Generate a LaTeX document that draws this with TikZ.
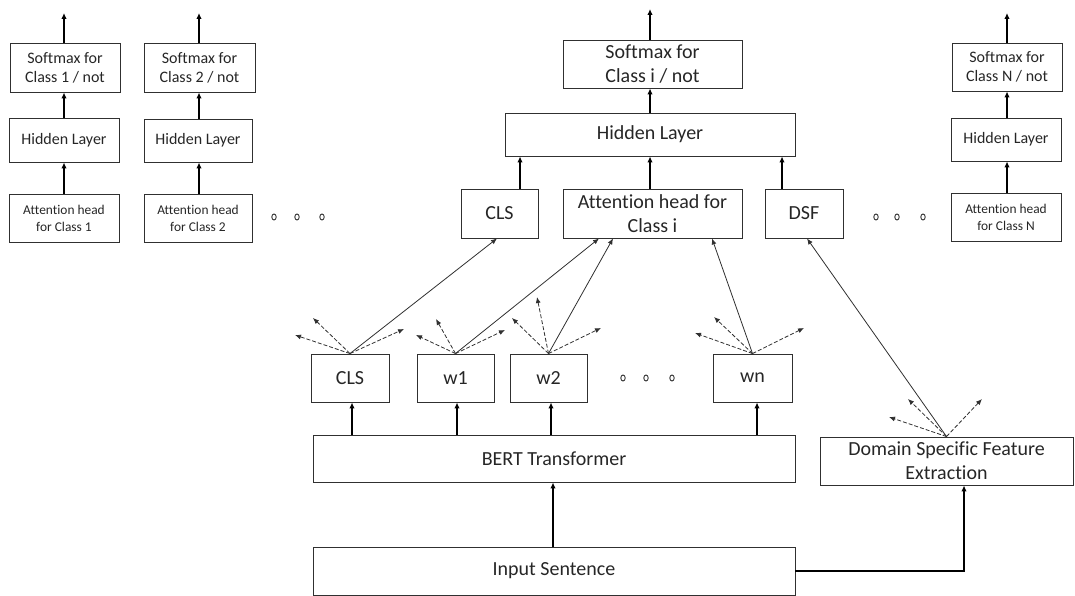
\documentclass[tikz,border=0pt]{standalone}
\usepackage{fontspec}
\setmainfont{Carlito}[Ligatures={NoCommon}]
\usetikzlibrary{arrows.meta,calc}
\definecolor{linec}{HTML}{303030}
\definecolor{textc}{HTML}{262626}
\tikzset{
  box/.style={draw=linec, line width=0.9pt, inner sep=0pt, align=center, text=textc},
  big/.style={font=\fontsize{20}{24}\selectfont},
  mid/.style={font=\fontsize{16}{19}\selectfont},
  small/.style={font=\fontsize{13.4}{17}\selectfont},
  thickarr/.style={draw=black, line width=1.8pt, -{Latex[length=6pt,width=5.5pt]}},
  thinarr/.style={draw=linec, line width=0.8pt, -{Latex[length=6pt,width=5pt]}},
  dasharr/.style={thinarr, dash pattern=on 4pt off 2pt},
  dotc/.style={draw=linec, line width=0.9pt}
}
\begin{document}
\begin{tikzpicture}[x=1pt,y=-1pt]
\useasboundingbox (0,0) rectangle (1075,596);

% left columns
\node[box,mid,minimum width=110pt,minimum height=49pt] (sm1) at (65,67.5) {Softmax for\\Class 1 / not};
\node[box,mid,minimum width=110pt,minimum height=44pt] (hl1) at (64,140) {Hidden Layer};
\node[box,small,minimum width=110pt,minimum height=48pt] (ah1) at (64,218) {Attention head\\for Class 1};

\node[box,mid,minimum width=111pt,minimum height=49pt] (sm2) at (199.5,67.5) {Softmax for\\Class 2 / not};
\node[box,mid,minimum width=108pt,minimum height=43pt] (hl2) at (198,140.5) {Hidden Layer};
\node[box,small,minimum width=108pt,minimum height=48pt] (ah2) at (198,218) {Attention head\\for Class 2};

% right column
\node[box,mid,minimum width=110pt,minimum height=48pt] (smN) at (1007,67) {Softmax for\\Class N / not};
\node[box,mid,minimum width=110pt,minimum height=43pt] (hlN) at (1006,139.5) {Hidden Layer};
\node[box,small,minimum width=110pt,minimum height=48pt] (ahN) at (1006,217) {Attention head\\for Class N};

% middle column
\node[box,big,minimum width=179pt,minimum height=48pt] (smi) at (652.5,64) {Softmax for\\Class i / not};
\node[box,big,minimum width=290pt,minimum height=43pt] (hli) at (650,134.5) {Hidden Layer};
\node[box,big,minimum width=77pt,minimum height=49pt] (clsT) at (499.5,213.5) {CLS};
\node[box,big,minimum width=179pt,minimum height=49pt] (attn) at (652.5,213.5) {Attention head for\\Class i};
\node[box,big,minimum width=78pt,minimum height=49pt] (dsf) at (804,213.5) {DSF};

% tokens
\node[box,big,minimum width=78pt,minimum height=48pt] (clsB) at (350,378) {CLS};
\node[box,big,minimum width=77pt,minimum height=48pt] (w1) at (455.5,378) {w1};
\node[box,big,minimum width=77pt,minimum height=48pt] (w2) at (548.5,378) {w2};
\node[box,big,minimum width=79pt,minimum height=48pt] (wn) at (752.5,378) {wn};

\node[box,big,minimum width=482pt,minimum height=47pt] (bert) at (554,458.5) {BERT Transformer};
\node[box,big,minimum width=482pt,minimum height=48pt] (input) at (554,571) {Input Sentence};
\node[box,big,minimum width=253pt,minimum height=48pt] (dsfe) at (946.5,461) {Domain Specific Feature\\Extraction};

% output coordinates
\coordinate (o1) at (64,13);
\coordinate (o2) at (199,13);
\coordinate (oi) at (650,9);
\coordinate (oN) at (1007,13);
% x positions of vertical arrows
\coordinate (xcls) at (520,0);
\coordinate (xdsf) at (782,0);
\coordinate (xb1) at (352,0);
\coordinate (xb2) at (457,0);
\coordinate (xb3) at (551,0);
\coordinate (xb4) at (757,0);
\coordinate (xin) at (553,0);
\coordinate (xdf) at (964,0);

% vertical thick arrows, left/right columns
\draw[thickarr] (ah1.north -| o1) -- (hl1.south -| o1);
\draw[thickarr] (hl1.north -| o1) -- (sm1.south -| o1);
\draw[thickarr] (sm1.north -| o1) -- (o1);
\draw[thickarr] (ah2.north -| o2) -- (hl2.south -| o2);
\draw[thickarr] (hl2.north -| o2) -- (sm2.south -| o2);
\draw[thickarr] (sm2.north -| o2) -- (o2);
\draw[thickarr] (ahN.north -| oN) -- (hlN.south -| oN);
\draw[thickarr] (hlN.north -| oN) -- (smN.south -| oN);
\draw[thickarr] (smN.north -| oN) -- (oN);

% middle column arrows
\draw[thickarr] (smi.north -| oi) -- (oi);
\draw[thickarr] (hli.north -| oi) -- (smi.south -| oi);
\draw[thickarr] (clsT.north -| xcls) -- (hli.south -| xcls);
\draw[thickarr] (attn.north -| oi) -- (hli.south -| oi);
\draw[thickarr] (dsf.north -| xdsf) -- (hli.south -| xdsf);

% BERT to tokens
\draw[thickarr] (bert.north -| xb1) -- (clsB.south -| xb1);
\draw[thickarr] (bert.north -| xb2) -- (w1.south -| xb2);
\draw[thickarr] (bert.north -| xb3) -- (w2.south -| xb3);
\draw[thickarr] (bert.north -| xb4) -- (wn.south -| xb4);
\draw[thickarr] (input.north -| xin) -- (bert.south -| xin);
\draw[thickarr] (input.east) -| (dsfe.south -| xdf);

% solid thin arrows to top boxes
\draw[thinarr] (clsB.north) -- ($(clsT.south)+(-2.5,0)$);
\draw[thinarr] (w1.north) -- ($(attn.south)+(-53.5,0)$);
\draw[thinarr] (w2.north) -- ($(attn.south)+(-39.5,0)$);
\draw[thinarr] (wn.north) -- ($(attn.south)+(59.5,0)$);
\draw[thinarr] (dsfe.north) -- ($(dsf.south)+(3,0)$);

% dashed fan tips
\coordinate (c1) at (295,335); \coordinate (c2) at (313,318); \coordinate (c3) at (404,329);
\coordinate (a1) at (416,335); \coordinate (a2) at (436,319); \coordinate (a3) at (505,330);
\coordinate (b1) at (512,318); \coordinate (b2) at (537,297); \coordinate (b3) at (601,328);
\coordinate (n1) at (714,317); \coordinate (n2) at (695,333); \coordinate (n3) at (804,328);
\coordinate (d1) at (889,417); \coordinate (d2) at (908,399); \coordinate (d3) at (982,399);
\foreach \t in {c1,c2,c3} \draw[dasharr] (clsB.north) -- (\t);
\foreach \t in {a1,a2,a3} \draw[dasharr] (w1.north) -- (\t);
\foreach \t in {b1,b2,b3} \draw[dasharr] (w2.north) -- (\t);
\foreach \t in {n1,n2,n3} \draw[dasharr] (wn.north) -- (\t);
\foreach \t in {d1,d2,d3} \draw[dasharr] (dsfe.north) -- (\t);

% ellipsis dots
\foreach \x/\y in {274/217,297/217,322/217,876/217,897/217,923/217,623/378,646/378,672/378}
  \draw[dotc] (\x,\y) ellipse [x radius=2.2pt, y radius=3pt];
\end{tikzpicture}
\end{document}
